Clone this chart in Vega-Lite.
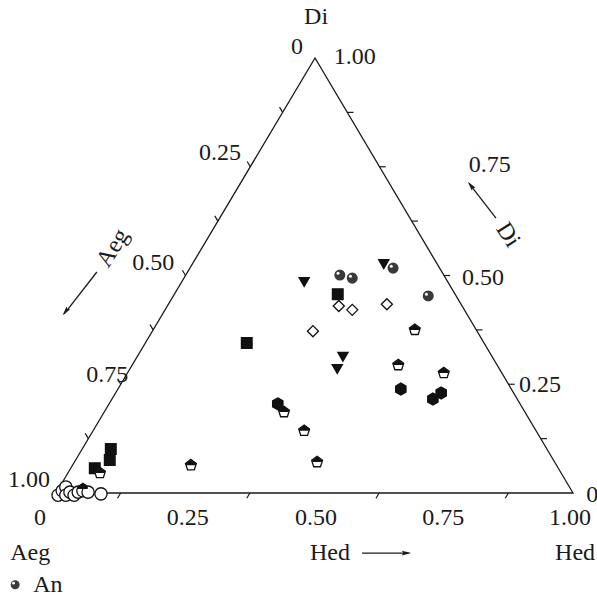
{
  "$schema": "https://vega.github.io/schema/vega-lite/v6.json",
  "width": 517,
  "height": 435,
  "autosize": {"type": "none"},
  "padding": {"left": 56, "top": 58, "right": 24, "bottom": 105},
  "background": "white",
  "config": {"view": {"stroke": null}},
  "datasets": {
    "frame": [
      {"x": 0, "y": 0, "o": 1},
      {"x": 1, "y": 0, "o": 2},
      {"x": 0.501, "y": 1, "o": 3},
      {"x": 0, "y": 0, "o": 4}
    ],
    "ticks": [
      {"x": 0.125, "y": 0, "x2": 0.119, "y2": -0.012},
      {"x": 0.375, "y": 0, "x2": 0.369, "y2": -0.012},
      {"x": 0.625, "y": 0, "x2": 0.619, "y2": -0.012},
      {"x": 0.875, "y": 0, "x2": 0.869, "y2": -0.012},
      {"x": 0.0626, "y": 0.125, "x2": 0.0566, "y2": 0.137},
      {"x": 0.1253, "y": 0.25, "x2": 0.1193, "y2": 0.262},
      {"x": 0.1879, "y": 0.375, "x2": 0.1819, "y2": 0.387},
      {"x": 0.2505, "y": 0.5, "x2": 0.2445, "y2": 0.512},
      {"x": 0.3131, "y": 0.625, "x2": 0.3071, "y2": 0.637},
      {"x": 0.3758, "y": 0.75, "x2": 0.3698, "y2": 0.762},
      {"x": 0.4384, "y": 0.875, "x2": 0.4324, "y2": 0.887},
      {"x": 0.9376, "y": 0.125, "x2": 0.9496, "y2": 0.125},
      {"x": 0.8753, "y": 0.25, "x2": 0.8873, "y2": 0.25},
      {"x": 0.8129, "y": 0.375, "x2": 0.8249, "y2": 0.375},
      {"x": 0.7505, "y": 0.5, "x2": 0.7625, "y2": 0.5},
      {"x": 0.6881, "y": 0.625, "x2": 0.7001, "y2": 0.625},
      {"x": 0.6258, "y": 0.75, "x2": 0.6378, "y2": 0.75},
      {"x": 0.5634, "y": 0.875, "x2": 0.5754, "y2": 0.875}
    ],
    "arrows": [
      {"x": 0.079, "y": 0.508, "x2": 0.016, "y2": 0.412},
      {"x": 0.851, "y": 0.632, "x2": 0.799, "y2": 0.712},
      {"x": 0.592, "y": -0.138, "x2": 0.682, "y2": -0.138}
    ],
    "labels": [
      {"t": "Di", "x": 0.503, "y": 1.094},
      {"t": "0", "x": 0.466, "y": 1.025},
      {"t": "1.00", "x": 0.578, "y": 1.002},
      {"t": "0.25", "x": 0.317, "y": 0.782},
      {"t": "0.50", "x": 0.188, "y": 0.529},
      {"t": "0.75", "x": 0.099, "y": 0.271},
      {"t": "1.00", "x": -0.052, "y": 0.03},
      {"t": "0.75", "x": 0.839, "y": 0.754},
      {"t": "0.50", "x": 0.826, "y": 0.494},
      {"t": "0.25", "x": 0.936, "y": 0.248},
      {"t": "0", "x": 1.037, "y": -0.005},
      {"t": "0", "x": -0.031, "y": -0.057},
      {"t": "0.25", "x": 0.255, "y": -0.057},
      {"t": "0.50", "x": 0.503, "y": -0.057},
      {"t": "0.75", "x": 0.749, "y": -0.057},
      {"t": "1.00", "x": 0.994, "y": -0.057},
      {"t": "Aeg", "x": -0.05, "y": -0.138},
      {"t": "Hed", "x": 0.53, "y": -0.138},
      {"t": "Hed", "x": 1.004, "y": -0.138}
    ],
    "legend": [
      {"t": "An", "x": -0.079, "y": -0.211, "tx": -0.044}
    ],
    "points": [
      {"s": "An", "x": 0.549, "y": 0.501},
      {"s": "An", "x": 0.573, "y": 0.494},
      {"s": "An", "x": 0.652, "y": 0.517},
      {"s": "An", "x": 0.72, "y": 0.453},
      {"s": "Tri", "x": 0.48, "y": 0.485},
      {"s": "Tri", "x": 0.634, "y": 0.526},
      {"s": "Tri", "x": 0.555, "y": 0.313},
      {"s": "Tri", "x": 0.544, "y": 0.285},
      {"s": "Sq", "x": 0.545, "y": 0.457},
      {"s": "Sq", "x": 0.369, "y": 0.345},
      {"s": "Sq", "x": 0.106, "y": 0.101},
      {"s": "Sq", "x": 0.104, "y": 0.076},
      {"s": "Sq", "x": 0.075, "y": 0.057},
      {"s": "Dia", "x": 0.547, "y": 0.43},
      {"s": "Dia", "x": 0.573, "y": 0.421},
      {"s": "Dia", "x": 0.64, "y": 0.434},
      {"s": "Dia", "x": 0.497, "y": 0.372},
      {"s": "Pen", "x": 0.694, "y": 0.375},
      {"s": "Pen", "x": 0.662, "y": 0.294},
      {"s": "Pen", "x": 0.75, "y": 0.276},
      {"s": "Hex", "x": 0.429, "y": 0.205},
      {"s": "Pen", "x": 0.441, "y": 0.186},
      {"s": "Pen", "x": 0.48, "y": 0.143},
      {"s": "Pen", "x": 0.505, "y": 0.071},
      {"s": "Pen", "x": 0.261, "y": 0.064},
      {"s": "Pen", "x": 0.085, "y": 0.046},
      {"s": "Pen", "x": 0.052, "y": 0.009},
      {"s": "Hex", "x": 0.667, "y": 0.239},
      {"s": "Hex", "x": 0.729, "y": 0.216},
      {"s": "Hex", "x": 0.745, "y": 0.23},
      {"s": "Cir", "x": 0.004, "y": -0.005},
      {"s": "Cir", "x": 0.012, "y": 0.005},
      {"s": "Cir", "x": 0.019, "y": 0.014},
      {"s": "Cir", "x": 0.019, "y": -0.005},
      {"s": "Cir", "x": 0.027, "y": 0.002},
      {"s": "Cir", "x": 0.035, "y": -0.005},
      {"s": "Cir", "x": 0.043, "y": 0.002},
      {"s": "Cir", "x": 0.052, "y": 0.005},
      {"s": "Cir", "x": 0.062, "y": 0.002},
      {"s": "Cir", "x": 0.087, "y": -0.002}
    ]
  },
  "layer": [
    {
      "data": {"name": "frame"},
      "mark": {"type": "line", "color": "#1a1a1a", "strokeWidth": 1.3},
      "encoding": {
        "x": {"field": "x", "type": "quantitative", "scale": {"domain": [0, 1], "nice": false, "zero": false}, "axis": null},
        "y": {"field": "y", "type": "quantitative", "scale": {"domain": [0, 1], "nice": false, "zero": false}, "axis": null},
        "order": {"field": "o"}
      }
    },
    {
      "data": {"name": "ticks"},
      "mark": {"type": "rule", "color": "#1a1a1a", "strokeWidth": 1.2},
      "encoding": {
        "x": {"field": "x", "type": "quantitative"},
        "y": {"field": "y", "type": "quantitative"},
        "x2": {"field": "x2"},
        "y2": {"field": "y2"}
      }
    },
    {
      "data": {"name": "arrows"},
      "mark": {"type": "rule", "color": "#1a1a1a", "strokeWidth": 1.3},
      "encoding": {
        "x": {"field": "x", "type": "quantitative"},
        "y": {"field": "y", "type": "quantitative"},
        "x2": {"field": "x2"},
        "y2": {"field": "y2"}
      }
    },
    {
      "data": {"values": [{"x": 0.019, "y": 0.418}]},
      "mark": {"type": "point", "shape": "M0,-1L0.45,0.8L0,0.5L-0.45,0.8Z", "size": 110, "filled": true, "color": "#1a1a1a", "opacity": 1, "angle": 218},
      "encoding": {"x": {"field": "x", "type": "quantitative"}, "y": {"field": "y", "type": "quantitative"}}
    },
    {
      "data": {"values": [{"x": 0.803, "y": 0.706}]},
      "mark": {"type": "point", "shape": "M0,-1L0.45,0.8L0,0.5L-0.45,0.8Z", "size": 110, "filled": true, "color": "#1a1a1a", "opacity": 1, "angle": 322},
      "encoding": {"x": {"field": "x", "type": "quantitative"}, "y": {"field": "y", "type": "quantitative"}}
    },
    {
      "data": {"values": [{"x": 0.677, "y": -0.138}]},
      "mark": {"type": "point", "shape": "M0,-1L0.45,0.8L0,0.5L-0.45,0.8Z", "size": 110, "filled": true, "color": "#1a1a1a", "opacity": 1, "angle": 90},
      "encoding": {"x": {"field": "x", "type": "quantitative"}, "y": {"field": "y", "type": "quantitative"}}
    },
    {
      "data": {"name": "labels"},
      "mark": {"type": "text", "font": "Liberation Serif", "fontSize": 24, "color": "#1a1a1a", "align": "center", "baseline": "middle"},
      "encoding": {
        "x": {"field": "x", "type": "quantitative"},
        "y": {"field": "y", "type": "quantitative"},
        "text": {"field": "t"}
      }
    },
    {
      "data": {"values": [{"t": "Aeg", "x": 0.11, "y": 0.563}]},
      "mark": {"type": "text", "font": "Liberation Serif", "fontSize": 24, "color": "#1a1a1a", "align": "center", "baseline": "middle", "angle": 302},
      "encoding": {"x": {"field": "x", "type": "quantitative"}, "y": {"field": "y", "type": "quantitative"}, "text": {"field": "t"}}
    },
    {
      "data": {"values": [{"t": "Di", "x": 0.874, "y": 0.593}]},
      "mark": {"type": "text", "font": "Liberation Serif", "fontSize": 24, "color": "#1a1a1a", "align": "center", "baseline": "middle", "angle": 57},
      "encoding": {"x": {"field": "x", "type": "quantitative"}, "y": {"field": "y", "type": "quantitative"}, "text": {"field": "t"}}
    },
    {
      "data": {"name": "points"},
      "mark": {"type": "point", "filled": false, "opacity": 1, "strokeWidth": 1.3},
      "encoding": {
        "x": {"field": "x", "type": "quantitative"},
        "y": {"field": "y", "type": "quantitative"},
        "shape": {
          "field": "s", "type": "nominal",
          "scale": {"domain": ["An", "Tri", "Sq", "Dia", "Pen", "Hex", "Cir"],
                    "range": ["circle", "triangle-down", "square", "diamond", "M0,-1L0.95,-0.31L0.59,0.81L-0.59,0.81L-0.95,-0.31Z", "M0,-1L0.87,-0.5L0.87,0.5L0,1L-0.87,0.5L-0.87,-0.5Z", "circle"]},
          "legend": null
        },
        "fill": {
          "field": "s", "type": "nominal",
          "scale": {"domain": ["An", "Tri", "Sq", "Dia", "Pen", "Hex", "Cir"],
                    "range": ["#3a3a3a", "#111111", "#111111", "#ffffff", "#ffffff", "#111111", "#ffffff"]},
          "legend": null
        },
        "stroke": {
          "field": "s", "type": "nominal",
          "scale": {"domain": ["An", "Tri", "Sq", "Dia", "Pen", "Hex", "Cir"],
                    "range": ["#3a3a3a", "#111111", "#111111", "#111111", "#111111", "#111111", "#111111"]},
          "legend": null
        },
        "size": {
          "field": "s", "type": "nominal",
          "scale": {"domain": ["An", "Tri", "Sq", "Dia", "Pen", "Hex", "Cir"],
                    "range": [95, 150, 100, 110, 120, 130, 75]},
          "legend": null
        }
      }
    },
    {
      "data": {"name": "points"},
      "transform": [{"filter": "datum.s === 'Pen'"}],
      "mark": {"type": "point", "shape": "M0,-1L0.95,-0.31L0.85,0L-0.85,0L-0.95,-0.31Z", "filled": true, "color": "#111111", "opacity": 1, "size": 120},
      "encoding": {"x": {"field": "x", "type": "quantitative"}, "y": {"field": "y", "type": "quantitative"}}
    },
    {
      "data": {"name": "points"},
      "transform": [{"filter": "datum.s === 'An'"}],
      "mark": {"type": "point", "shape": "circle", "filled": true, "color": "#ffffff", "opacity": 1, "size": 9, "xOffset": -1.8, "yOffset": -1.8},
      "encoding": {"x": {"field": "x", "type": "quantitative"}, "y": {"field": "y", "type": "quantitative"}}
    },
    {
      "data": {"name": "legend"},
      "mark": {"type": "point", "shape": "circle", "filled": true, "color": "#3a3a3a", "opacity": 1, "size": 80},
      "encoding": {"x": {"field": "x", "type": "quantitative"}, "y": {"field": "y", "type": "quantitative"}}
    },
    {
      "data": {"name": "legend"},
      "mark": {"type": "point", "shape": "circle", "filled": true, "color": "#ffffff", "opacity": 1, "size": 8, "xOffset": -1.6, "yOffset": -1.6},
      "encoding": {"x": {"field": "x", "type": "quantitative"}, "y": {"field": "y", "type": "quantitative"}}
    },
    {
      "data": {"name": "legend"},
      "mark": {"type": "text", "font": "Liberation Serif", "fontSize": 24, "color": "#1a1a1a", "align": "left", "baseline": "middle"},
      "encoding": {"x": {"field": "tx", "type": "quantitative"}, "y": {"field": "y", "type": "quantitative"}, "text": {"field": "t"}}
    }
  ]
}
